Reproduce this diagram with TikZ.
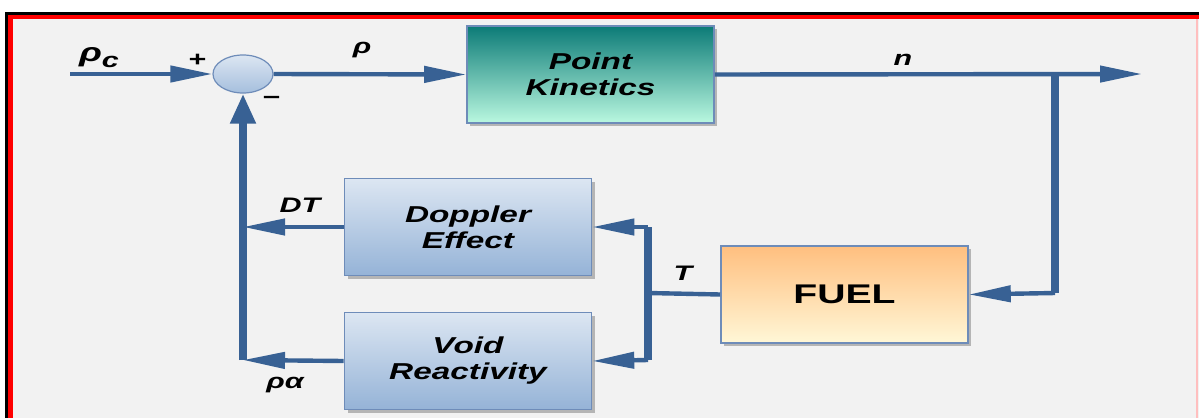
\documentclass[tikz,border=0pt]{standalone}
\usepackage{fontspec}
\setmainfont{Liberation Sans}[FakeStretch=1.45]
\usetikzlibrary{arrows.meta,shapes.geometric,shadows}
\definecolor{lineblue}{RGB}{56,97,148}
\definecolor{bggray}{RGB}{242,242,242}
\definecolor{framered}{RGB}{255,0,0}
\definecolor{boxborder}{RGB}{110,140,185}
\definecolor{pktop}{RGB}{12,123,119}
\definecolor{pkbot}{RGB}{186,248,224}
\definecolor{bltop}{RGB}{220,230,242}
\definecolor{blbot}{RGB}{149,179,215}
\definecolor{futop}{RGB}{255,191,127}
\definecolor{fubot}{RGB}{255,247,215}
\tikzset{
  blockbox/.style={rectangle, draw=boxborder, line width=0.8pt,
    minimum width=123.5pt, minimum height=48.5pt, align=center,
    font=\fontsize{11.5}{13}\selectfont\bfseries\itshape,
    drop shadow={shadow xshift=1.5pt, shadow yshift=-1.5pt, opacity=0.25, fill=black}},
  lbl/.style={font=\fontsize{10.5}{12}\selectfont\bfseries\itshape, inner sep=0pt},
  hline/.style={draw=lineblue, line width=2.2pt, -{Triangle[length=21pt,width=8pt]}},
  plain/.style={draw=lineblue, line width=2.2pt},
  thick4/.style={draw=lineblue, line width=4pt},
}
\begin{document}
\begin{tikzpicture}[x=0.5pt,y=-0.5pt]
\useasboundingbox (0,0) rectangle (1199,418);
% frame
\fill[white] (0,0) rectangle (1199,418);
\fill[bggray] (13,19) rectangle (1199,418);
\fill[black] (5,12) rectangle (1199,15);
\fill[framered] (8,15) rectangle (1199,19);
\fill[black] (5,12) rectangle (8,418);
\fill[framered] (8,15) rectangle (13,418);
\fill[red!25] (1196,19) rectangle (1198,418);

% nodes
\node[ellipse, draw=boxborder, line width=0.6pt, top color=bltop, bottom color=blbot!85,
      minimum width=30pt, minimum height=19pt, inner sep=0pt] (sum) at (243,74) {};
\node[blockbox, top color=pktop, bottom color=pkbot] (pk) at (590.5,74.5) {Point\\Kinetics};
\node[blockbox, top color=bltop, bottom color=blbot] (dop) at (468,227) {Doppler\\Effect};
\node[blockbox, top color=bltop, bottom color=blbot] (void) at (468,361) {Void\\Reactivity};
\node[blockbox, top color=futop, bottom color=fubot,
      font=\fontsize{13.5}{15}\selectfont\bfseries] (fuel) at (844.5,294.5) {FUEL};

% coordinates
\coordinate (in) at (70,74);
\coordinate (out) at (1142,74);
\coordinate (br) at (1055,74);
\coordinate (brb) at (1055,293);
\coordinate (tj) at (648,293);
\coordinate (tjt) at (648,227);
\coordinate (tjb) at (648,360);
\coordinate (lt) at (243,227);
\coordinate (lb) at (243,360);

% connectors
\draw[hline] (in) -- (sum.west);
\draw[hline] (sum.east) -- (pk.west);
\draw[hline] (pk.east) -- (out);
\draw[thick4] (br) -- (brb);
\draw[hline] (brb) -- (fuel.east);
\draw[plain] (fuel.west) -- (tj);
\draw[thick4] (tjt) -- (tjb);
\draw[hline] (tjt) -- (dop.east);
\draw[hline] (tjb) -- (void.east);
\draw[hline] (dop.west) -- (lt);
\draw[hline] (void.west) -- (lb);
\draw[thick4, -{Triangle[length=15pt,width=12pt]}] (lb) -- (sum.south);

% labels
\node[lbl] (lrc) at (99,58) {{\fontsize{13}{13}\selectfont ρ}\raisebox{-3pt}{c}};
\node[lbl] (lplus) at (197,60) {+};
\node[lbl] (lminus) at (271,100) {−};
\node[lbl] (lrho) at (362,50) {ρ};
\node[lbl] (ln) at (903,60) {n};
\node[lbl] (lT) at (683,273) {T};
\node[lbl] (lDT) at (300,205) {DT};
\node[lbl] (lra) at (285,385) {ρα};
\end{tikzpicture}
\end{document}
